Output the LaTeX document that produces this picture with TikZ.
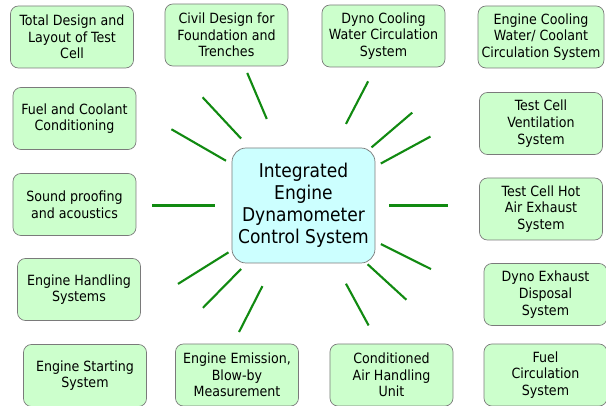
\documentclass[tikz,border=0pt]{standalone}
\usepackage{fontspec}
\setmainfont{DejaVu Sans Condensed}
\usepackage{tikz}
\usetikzlibrary{calc}
\definecolor{boxline}{HTML}{7A7A7A}
\definecolor{leaf}{HTML}{CCFFCC}
\definecolor{hub}{HTML}{CCFFFF}
\definecolor{raygreen}{HTML}{118A11}

\begin{document}
\begin{tikzpicture}[
  font=\fontsize{8}{9.5}\selectfont,
  topic/.style={draw=boxline,fill=leaf,rounded corners=4.5pt,
    minimum width=2.46cm,minimum height=1.24cm,align=center,inner sep=2pt},
  core/.style={draw=boxline,fill=hub,rounded corners=8pt,
    minimum width=2.86cm,minimum height=2.3cm,align=center,
    font=\fontsize{10.8}{12.6}\selectfont},
  ray/.style={draw=raygreen,line width=1.2pt}
]
  \useasboundingbox (-6.07,-4.01) rectangle (6.05,4.11);

  \node[core] (ides) at (0,0) {Integrated\\Engine\\Dynamometer\\Control System};

  \node[topic] (total) at (-4.63,3.37) {Total Design and\\Layout of Test\\Cell};
  \node[topic] (civil) at (-1.54,3.41) {Civil Design for\\Foundation and\\Trenches};
  \node[topic] (dynocool) at (1.60,3.39) {Dyno Cooling\\Water Circulation\\System};
  \node[topic] (enginecool) at (4.75,3.37) {Engine Cooling\\Water/ Coolant\\Circulation System};
  \node[topic] (fuelcond) at (-4.58,1.74) {Fuel and Coolant\\Conditioning};
  \node[topic] (vent) at (4.75,1.64) {Test Cell\\Ventilation\\System};
  \node[topic] (sound) at (-4.58,0.02) {Sound proofing\\and acoustics};
  \node[topic] (hotair) at (4.75,-0.07) {Test Cell Hot\\Air Exhaust\\System};
  \node[topic] (handling) at (-4.49,-1.68) {Engine Handling\\Systems};
  \node[topic] (dynoexh) at (4.84,-1.78) {Dyno Exhaust\\Disposal\\System};
  \node[topic] (starting) at (-4.37,-3.40) {Engine Starting\\System};
  \node[topic] (emission) at (-1.33,-3.39) {Engine Emission,\\Blow-by\\Measurement};
  \node[topic] (airunit) at (1.76,-3.39) {Conditioned\\Air Handling\\Unit};
  \node[topic] (fuelcirc) at (4.84,-3.39) {Fuel\\Circulation\\System};

  % rays around the hub: angle / inner radius / outer radius
  \foreach \a/\ri/\ro in {113/1.88/2.88,133/1.83/2.96,150/1.79/3.05,180/1.77/3.03,
      62.5/1.84/2.80,40.5/1.79/2.86,28.5/1.76/2.89,0/1.71/2.89,
      212/1.77/2.96,225.5/1.78/2.87,243/1.81/2.84,
      333.5/1.73/2.85,317.5/1.74/2.79,298.5/1.78/2.73}
    \draw[ray] ($(ides)+(\a:\ri)$) -- ($(ides)+(\a:\ro)$);
\end{tikzpicture}
\end{document}
